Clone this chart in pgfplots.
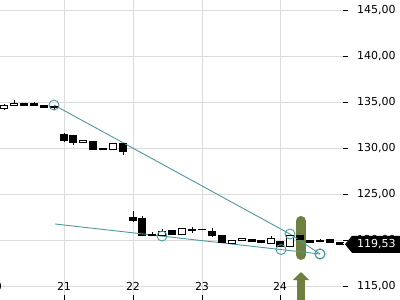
\documentclass[border=0pt]{standalone}
\usepackage{fontspec}
\setmainfont{DejaVu Sans}
\usepackage{pgfplots}
\pgfplotsset{compat=1.18}
\usetikzlibrary{arrows.meta}
\definecolor{tealline}{HTML}{4D99A0}
\definecolor{olivegreen}{HTML}{6E8040}
\definecolor{gridc}{HTML}{DCDCDC}
% arguments: x, open, high, low, close
\newcommand{\candleDn}[5]{%
  \addplot[black, line width=0.8pt] coordinates {(#1,#4) (#1,#3)};
  \addplot[black, line width=7.8pt] coordinates {(#1,#5) (#1,#2)};
  \addplot[black, only marks, mark=-, mark size=3.9pt, mark options={line width=0.8pt}] coordinates {(#1,#2) (#1,#5)};}
\newcommand{\candleUp}[5]{%
  \addplot[black, line width=0.8pt] coordinates {(#1,#4) (#1,#3)};
  \addplot[black, line width=7.8pt] coordinates {(#1,#2) (#1,#5)};
  \addplot[white, line width=6.2pt] coordinates {(#1,#2) (#1,#5)};
  \addplot[black, only marks, mark=-, mark size=3.9pt, mark options={line width=0.8pt}] coordinates {(#1,#2) (#1,#5)};}
\begin{document}
\begin{tikzpicture}
\begin{axis}[
  at={(-10pt,0pt)}, anchor=south west,
  scale only axis, width=353pt, height=300pt,
  xmin=-10, xmax=343, ymin=113.478, ymax=146.087,
  xtick={-5,64,133,202,280}, xticklabels={20,21,22,23,24},
  ytick={115,120,...,145},
  grid=major, major grid style={gridc, line width=0.8pt},
  axis line style={draw=none},
  xtick pos=bottom, ytick pos=right, yticklabel pos=right,
  xtick align=inside, ytick align=outside,
  major tick length=5pt,
  tick style={black, line width=0.8pt},
  /pgf/number format/assume math mode=true,
  tick label style={font=\fontsize{11pt}{13pt}\selectfont},
  xticklabel style={anchor=base, yshift=9pt},
  yticklabel style={anchor=west, inner sep=0pt, xshift=9pt},
  yticklabel={\pgfmathprintnumber[fixed, fixed zerofill, precision=2, use comma]{\tick}},
]
% event marker
\addplot[olivegreen, line width=10pt, line cap=round] coordinates {(301,122.07) (301,118.37)};
\addplot[olivegreen, line width=8pt, -{Triangle[width=16pt,length=8pt]}] coordinates {(301,112) (301,116.52)};
% candles
\candleUp{4}{134.29}{134.78}{134.13}{134.64}
\candleUp{14}{134.64}{135.22}{134.60}{134.89}
\candleDn{24}{134.84}{134.90}{134.67}{134.67}
\candleDn{34}{134.84}{135.00}{134.62}{134.62}
\candleDn{44}{134.62}{134.62}{134.46}{134.46}
\candleDn{54}{134.57}{134.60}{134.18}{134.40}
\candleDn{64}{131.52}{131.60}{130.65}{130.87}
\candleDn{73}{131.41}{131.45}{130.33}{130.65}
\candleUp{83}{130.58}{130.87}{130.55}{130.84}
\candleDn{93}{130.68}{130.70}{129.85}{129.89}
\candleDn{103}{129.93}{129.93}{129.89}{129.89}
\candleUp{113}{129.89}{130.51}{129.89}{130.51}
\candleDn{123}{130.51}{130.55}{129.24}{129.60}
\candleDn{133}{122.50}{123.15}{121.96}{122.17}
\candleDn{142}{122.36}{122.61}{120.45}{120.47}
\candleDn{152}{120.60}{120.87}{120.50}{120.50}
\candleUp{162}{120.54}{121.20}{120.54}{120.98}
\candleDn{172}{121.01}{121.01}{120.65}{120.65}
\candleUp{182}{120.65}{121.27}{120.65}{121.27}
\candleUp{192}{121.09}{121.41}{120.76}{121.10}
\candleDn{202}{121.15}{121.15}{121.13}{121.13}
\candleDn{212}{120.90}{121.30}{120.33}{120.54}
\candleDn{222}{120.47}{120.50}{119.70}{119.75}
\candleUp{232}{119.64}{120.00}{119.64}{120.00}
\candleUp{242}{119.92}{120.18}{119.92}{120.18}
\candleDn{252}{120.11}{120.11}{119.82}{119.82}
\candleDn{261}{120.00}{120.00}{119.75}{119.75}
\candleUp{271}{119.64}{120.43}{119.64}{120.18}
\candleDn{280}{119.89}{119.89}{119.35}{119.35}
\candleUp{290}{119.35}{120.54}{119.35}{120.54}
\candleDn{300}{120.47}{120.47}{120.11}{120.11}
\candleDn{310}{120.00}{120.00}{119.75}{119.75}
\candleDn{320}{120.00}{120.10}{119.90}{119.90}
\candleDn{330}{120.08}{120.08}{119.75}{119.75}
\candleDn{340}{119.78}{119.78}{119.53}{119.53}
% trend lines
\addplot[tealline, line width=0.9pt, mark=o, mark size=5pt, mark options={solid, fill=none, draw=tealline}]
  coordinates {(54,134.67) (290,120.65) (320,118.48)};
\addplot[tealline, line width=0.9pt] coordinates {(55,121.74) (320,118.48)};
\addplot[only marks, mark=o, mark size=5pt, mark options={tealline, line width=0.9pt, fill=none}]
  coordinates {(162,120.43) (281,118.97) (320,118.48)};
\end{axis}
% last price tag
\fill[black] (345pt,55.7pt) -- (352pt,64.2pt) -- (402pt,64.2pt) -- (402pt,47.2pt) -- (352pt,47.2pt) -- cycle;
\node[text=white, anchor=west, inner sep=0pt, font=\fontsize{11pt}{13pt}\selectfont] at (357pt,55.7pt) {119,53};
\pgfresetboundingbox
\useasboundingbox (0,0) rectangle (400pt,300pt);
\end{tikzpicture}
\end{document}
